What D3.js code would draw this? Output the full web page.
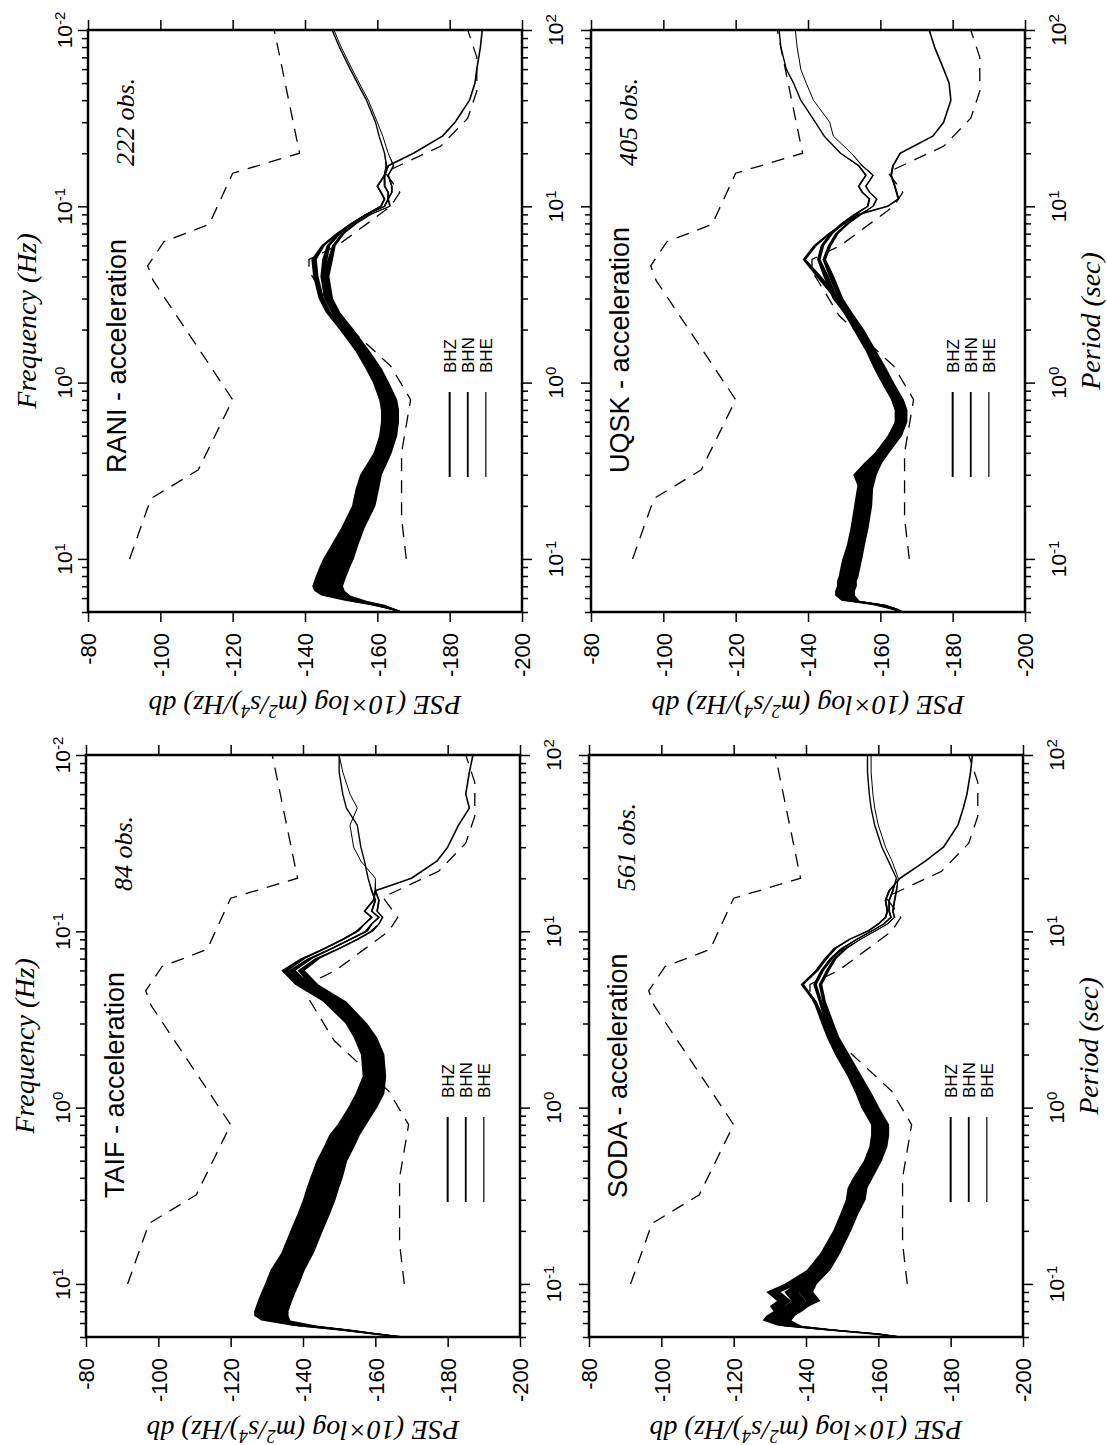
<!DOCTYPE html>
<html>
<head>
<meta charset="utf-8">
<script src="https://cdn.jsdelivr.net/npm/d3@7"></script>
<style>
  body { margin: 0; background: #fff; }
  .sans { font-family: "Liberation Sans", Arial, Helvetica, sans-serif; }
  .serif { font-family: "Liberation Serif", "Times New Roman", serif; font-style: italic; }
</style>
</head>
<body>
<div id="chart"></div>
<script>
// period grid (sec) shared by the station curves
const periods = [0.05,0.052,0.055,0.058,0.062,0.066,0.07,0.075,0.08,0.09,0.1,0.12,0.15,0.2,0.25,0.3,0.35,0.4,0.5,0.6,0.7,0.8,1,1.2,1.5,2,2.5,3,4,5,6,7,8,9,10,11,12,13,15,17,20,25,30,40,50,60,80,100];

// RANI
const raniBHZ = [-166.5,-164,-159,-153,-147,-145,-144.5,-145,-145.5,-146.5,-147.5,-149.5,-152,-155,-156,-157,-159,-160.5,-162,-162.5,-162.5,-162,-160,-158,-155,-150.5,-146.5,-144.5,-143,-142.5,-145,-149,-153,-157,-161,-162,-161,-160,-162,-163,-170,-178,-181.5,-185.5,-187,-187.5,-188.5,-189];
const raniBHN = [-166.5,-164,-160,-154,-149,-147,-146.5,-147,-147.5,-148.5,-149.5,-151.5,-153.5,-156.5,-157.5,-158.5,-160,-161.5,-163,-163.5,-163.5,-163,-161,-159,-156,-151.5,-148,-146,-145,-145.5,-146.5,-149.5,-153,-157,-162,-163,-163,-162,-162,-162.5,-162,-160.5,-159.5,-157,-154.5,-152.5,-149.5,-147.5];
const raniBHE = [-166.5,-164,-160.5,-155,-150,-148.5,-148,-148.5,-149,-150,-151,-152.5,-154.5,-157.5,-158.5,-159.5,-161,-162.5,-164,-164.5,-164.5,-164,-162,-160,-157,-152.5,-149,-147,-146,-147,-148,-150.5,-154,-158,-163.5,-163,-164,-164,-163,-164.5,-163,-161.5,-160,-157.5,-155,-153,-150,-148];
const raniSpread = [1,2,3,4,5,5,5,5,5,5,5,4.5,4,4,4,3.5,3.5,3,3,3,3,3,2.5,2.5,2,2,1.5,1.5,1.5,1.5,1,1,1,1,0.5,0.5,0.5,0.5,0.5,0.5,0,0,0,0,0,0,0,0];

// UQSK
const uqskBHZ = [-166,-164,-160,-152,-150,-150,-150.5,-150.5,-151,-151.5,-152,-153,-154,-155,-155.5,-154,-157,-160,-163.5,-165.5,-165.5,-164.5,-162,-160,-157.5,-154,-150.5,-148,-143,-139,-142,-146,-150,-154,-162,-165,-164.5,-164,-163,-163.5,-165.5,-174.5,-177.5,-179.5,-179,-177.5,-175,-173.5];
const uqskBHN = [-166,-163.5,-159,-151,-149.5,-149.5,-150,-150,-150.5,-151,-151.5,-152.5,-153.5,-154.5,-155,-156,-158,-160,-164,-165.5,-165.5,-164.5,-161.5,-159.5,-157,-153.5,-150.5,-147.5,-145,-143,-144,-146.5,-149.5,-153,-156.5,-157,-155,-154,-156,-154,-149,-144.5,-142,-138,-136,-134,-132.5,-132];
const uqskBHE = [-166,-164,-160,-152.5,-151,-151,-151.5,-151.5,-152,-152.5,-153,-154,-155,-156,-156.5,-157.5,-159,-161,-164.5,-166,-166,-165,-162.5,-160.5,-158,-154.5,-151.5,-149,-146.5,-144.5,-146,-148,-151,-154.5,-158,-159,-157,-156,-158,-155,-152,-147,-146,-141.5,-139.5,-138,-137,-136.5];
const uqskSpread = [1,2,3,3.5,4,4,4,4,4,4,4,3.5,3.5,3.5,3,3,3,3,3,3,3,3,2.5,2.5,2,2,1.5,1.5,1.5,1,1,1,1,1,0.5,0.5,0.5,0.5,0.5,0.5,0,0,0,0,0,0,0,0];

// TAIF
const taifBHZ = [-167.5,-160,-150,-139,-131,-129.5,-129.5,-130,-130.5,-131.5,-132.5,-134,-137,-139.5,-141.5,-143,-144,-145,-146.5,-148.5,-150,-152,-155,-157,-158.5,-158,-156,-153.5,-147,-139,-135,-140,-146,-151,-155,-157,-159,-157,-159.5,-160,-170,-177,-180,-183,-186,-185,-186,-187];
const taifBHN = [-167.5,-160,-151,-141,-133,-131.5,-131.5,-132,-132.5,-133.5,-134.5,-136,-138.5,-141,-143,-144.5,-145.5,-146.5,-148,-150,-151.5,-153.5,-156.5,-158.5,-160,-159.5,-157.5,-155,-148.5,-141,-137,-142,-148,-153,-157.5,-159,-161,-159,-160,-159,-158,-157,-156,-155,-152,-151,-150,-150];
const taifBHE = [-167.5,-161,-152,-142,-134,-133,-133,-133.5,-134,-135,-136,-137.5,-140,-142.5,-144.5,-146,-147,-148,-149.5,-151.5,-153,-155,-158,-160,-161,-160.5,-158.5,-156,-150.5,-143,-139.5,-144,-150,-155,-159,-161,-162,-160.5,-161,-160,-160,-156,-154,-153,-155,-153,-151,-150];
const taifSpread = [1,2,3,4,5,6,6,6,6,6,6,6,6,6,6,6,6,6,5.5,5.5,5.5,5,5,5,4,4,4,3.5,3,2.5,2,1.5,1,1,1,0.5,0.5,0.5,0.5,0.5,0,0,0,0,0,0,0,0];

// SODA
const sodaBHZ = [-166,-160,-146,-134,-130,-131,-133,-132,-134,-131,-136,-142,-145.5,-149,-151,-152.5,-153,-154.5,-157.5,-159,-159.5,-159.5,-156.5,-155,-152.5,-149,-146.5,-145,-142.5,-139,-143,-145.5,-148,-152,-157,-160,-162,-162.5,-162,-163,-166,-173,-178,-182,-183.5,-184.5,-185.5,-186];
const sodaBHN = [-166,-159,-146,-135,-132,-133,-134,-136,-138,-136,-139,-144,-147,-150,-152,-154,-154.5,-156,-158.5,-160,-160.5,-160.5,-158,-156,-153.5,-150,-147.5,-146,-144,-142.5,-144.5,-147,-150,-154,-158,-161.5,-163.5,-163,-163,-164,-165,-162.8,-161,-159,-158,-157.5,-157,-157];
const sodaBHE = [-166,-160,-147,-137,-134,-135,-137,-139,-142,-140,-141,-145,-148,-151,-153,-155,-155.5,-157,-159.5,-161,-161.5,-161.5,-159,-157,-154.5,-151,-148.5,-147,-145,-144,-146,-148,-151,-155,-159,-162.5,-164.5,-164,-164.5,-165,-165.5,-163.8,-162,-160,-159,-158.5,-158,-158];
const sodaSpread = [1,2,3,3.5,4,4,4,4,4,4,4,3.5,3,3,3,3,3,3,3,3,3,3,2.5,2.5,2,2,1.5,1.5,1,1,1,1,1,0.5,0.5,0.5,0.5,0.5,0.5,0.5,0,0,0,0,0,0,0,0];

// dashed reference models (high / low noise)
const highModelPeriod = [0.1,0.22,0.32,0.8,3.8,4.6,6.3,7.9,15.4,20,100];
const highModelDb = [-91.5,-97.4,-110.5,-120,-98,-96.5,-101,-113.5,-120,-138.5,-131.5];
const lowModelPeriod = [0.1,0.17,0.4,0.8,1.24,2.4,4.3,5,6,10,12,15.6,21.9,31.6,45,70,100];
const lowModelDb = [-168,-166.7,-166.7,-169.2,-163.7,-148.6,-141.1,-141.1,-149,-163.7,-166.2,-162.1,-177.5,-185,-187.5,-187.5,-185];

// axis ticks and labels
const pseTicks = [-80,-100,-120,-140,-160,-180,-200];
const decadePeriods = [100,10,1,0.1];
const periodExps = ["2","1","0","-1"];
const freqExps = ["-2","-1","0","1"];
const components = ["BHZ","BHN","BHE"];
const compWidths = [1.6,1.4,1.0];

const stations = ["RANI","UQSK","TAIF","SODA"];
const obsCounts = [222,405,84,561];

const width = 1107, height = 1445;
const PW = 434, PH = 582;

const svg = d3.select("#chart")
  .append("svg")
    .attr("width", width)
    .attr("height", height);

svg.append("rect").attr("width", width).attr("height", height).attr("fill", "#fff");

const panels = [
  {left: 88, top: 30, col: 0, curves: [raniBHZ, raniBHN, raniBHE], spread: raniSpread},
  {left: 591, top: 30, col: 1, curves: [uqskBHZ, uqskBHN, uqskBHE], spread: uqskSpread},
  {left: 86, top: 755, col: 0, curves: [taifBHZ, taifBHN, taifBHE], spread: taifSpread},
  {left: 589, top: 755, col: 1, curves: [sodaBHZ, sodaBHN, sodaBHE], spread: sodaSpread}
];

panels.forEach((p, i) => drawPanel(p, stations[i], obsCounts[i]));

function expLabel(sel, base, exp) {
  sel.append("tspan").text(base);
  sel.append("tspan").attr("dy", "-7").style("font-size", "15px").text(exp);
}

function drawPanel(p, name, obs) {
  const x = d3.scaleLinear().domain([-80, -200]).range([p.left, p.left + PW]);
  const y = d3.scaleLog().domain([100, 0.05]).range([p.top, p.top + PH]);
  const g = svg.append("g");

  // noise models, dashed
  const modelLine = d3.line().x(d => x(d[1])).y(d => y(d[0]));
  [[highModelPeriod, highModelDb], [lowModelPeriod, lowModelDb]].forEach(m => {
    g.append("path")
      .datum(d3.zip(m[0], m[1]))
      .attr("d", modelLine)
      .attr("fill", "none")
      .attr("stroke", "#000")
      .attr("stroke-width", 1.3)
      .attr("stroke-dasharray", "13,9");
  });

  // station curves: fuzzy band + line
  p.curves.forEach((vals, c) => {
    const pts = periods.map((P, k) => ({P: P, v: vals[k], s: p.spread[k]}));
    g.append("path")
      .datum(pts)
      .attr("d", d3.area().y(d => y(d.P)).x0(d => x(d.v + d.s / 2)).x1(d => x(d.v - d.s / 2)))
      .attr("fill", "#000");
    g.append("path")
      .datum(pts)
      .attr("d", d3.line().x(d => x(d.v)).y(d => y(d.P)))
      .attr("fill", "none")
      .attr("stroke", "#000")
      .attr("stroke-width", compWidths[c])
      .attr("stroke-linejoin", "round");
  });

  // frame
  g.append("rect")
    .attr("x", p.left).attr("y", p.top)
    .attr("width", PW).attr("height", PH)
    .attr("fill", "none")
    .attr("stroke", "#000")
    .attr("stroke-width", 2.5);

  // top and bottom ticks
  g.append("g")
    .attr("transform", `translate(0,${p.top})`)
    .call(d3.axisTop(x).tickValues(pseTicks).tickSize(10).tickSizeOuter(0).tickFormat(""));
  const bottom = g.append("g")
    .attr("transform", `translate(0,${p.top + PH})`)
    .call(d3.axisBottom(x).tickValues(pseTicks).tickSize(10).tickSizeOuter(0).tickFormat(d => String(d)));
  bottom.selectAll("text")
    .attr("class", "sans")
    .attr("transform", "rotate(-90)")
    .attr("x", -21).attr("y", 0).attr("dy", "0.36em")
    .attr("text-anchor", "end")
    .style("font-size", "22px")
    .attr("fill", "#000");

  // log period ticks left and right
  const minor = y.ticks().filter(t => !decadePeriods.some(d => Math.abs(d - t) < 1e-9));
  [d3.axisLeft, d3.axisRight].forEach((ax, k) => {
    const xx = k === 0 ? p.left : p.left + PW;
    g.append("g").attr("transform", `translate(${xx},0)`)
      .call(ax(y).tickValues(decadePeriods).tickSize(10).tickSizeOuter(0).tickFormat(""));
    g.append("g").attr("transform", `translate(${xx},0)`)
      .call(ax(y).tickValues(minor).tickSize(6).tickSizeOuter(0).tickFormat(""));
  });
  g.selectAll(".domain").remove();
  g.selectAll(".tick line").attr("stroke", "#000").attr("stroke-width", 1.5);

  // period labels on the right
  g.selectAll(".plab")
    .data(decadePeriods)
    .join("text")
      .attr("class", "plab sans")
      .attr("transform", d => `translate(${p.left + PW + 41},${y(d)}) rotate(-90)`)
      .attr("text-anchor", "middle")
      .style("font-size", "21px")
      .each(function(d, i) { expLabel(d3.select(this), "10", periodExps[i]); });

  if (p.col === 0) {
    // frequency labels on the left
    g.selectAll(".flab")
      .data(decadePeriods)
      .join("text")
        .attr("class", "flab sans")
        .attr("transform", d => `translate(${p.left - 16},${y(d)}) rotate(-90)`)
        .attr("text-anchor", "middle")
        .style("font-size", "21px")
        .each(function(d, i) { expLabel(d3.select(this), "10", freqExps[i]); });
    g.append("text")
      .attr("class", "serif")
      .attr("transform", `translate(${p.left - 52},${p.top + PH / 2}) rotate(-90)`)
      .attr("text-anchor", "middle")
      .style("font-size", "28px")
      .text("Frequency (Hz)");
  } else {
    g.append("text")
      .attr("class", "serif")
      .attr("transform", `translate(${p.left + PW + 75},${p.top + PH / 2}) rotate(-90)`)
      .attr("text-anchor", "middle")
      .style("font-size", "28px")
      .text("Period (sec)");
  }

  // PSE axis title, upside down
  const pse = g.append("text")
    .attr("class", "serif")
    .attr("transform", `translate(${p.left + PW / 2},${p.top + PH + 84}) rotate(180)`)
    .attr("text-anchor", "middle")
    .style("font-size", "28px");
  pse.append("tspan").text("PSE (10\u00d7log (m");
  pse.append("tspan").attr("dy", "-9").style("font-size", "18px").text("2");
  pse.append("tspan").attr("dy", "9").text("/s");
  pse.append("tspan").attr("dy", "-9").style("font-size", "18px").text("4");
  pse.append("tspan").attr("dy", "9").text(")/Hz) db");

  // station title and count
  g.append("text")
    .attr("class", "sans")
    .attr("transform", `translate(${p.left + 38},${p.top + 443}) rotate(-90)`)
    .style("font-size", "27px")
    .text(name + " - acceleration");
  g.append("text")
    .attr("class", "serif")
    .attr("transform", `translate(${p.left + 46},${p.top + 136}) rotate(-90)`)
    .style("font-size", "26px")
    .text(obs + " obs.");

  // legend
  const legX = [-180, -185, -190];
  components.forEach((c, k) => {
    g.append("line")
      .attr("x1", x(legX[k])).attr("x2", x(legX[k]))
      .attr("y1", p.top + 362).attr("y2", p.top + 447)
      .attr("stroke", "#000")
      .attr("stroke-width", [2, 1.8, 1.2][k]);
    g.append("text")
      .attr("class", "sans")
      .attr("transform", `translate(${x(legX[k])},${p.top + 343}) rotate(-90)`)
      .attr("dy", "0.36em")
      .style("font-size", "17px")
      .text(c);
  });
}
</script>
</body>
</html>
